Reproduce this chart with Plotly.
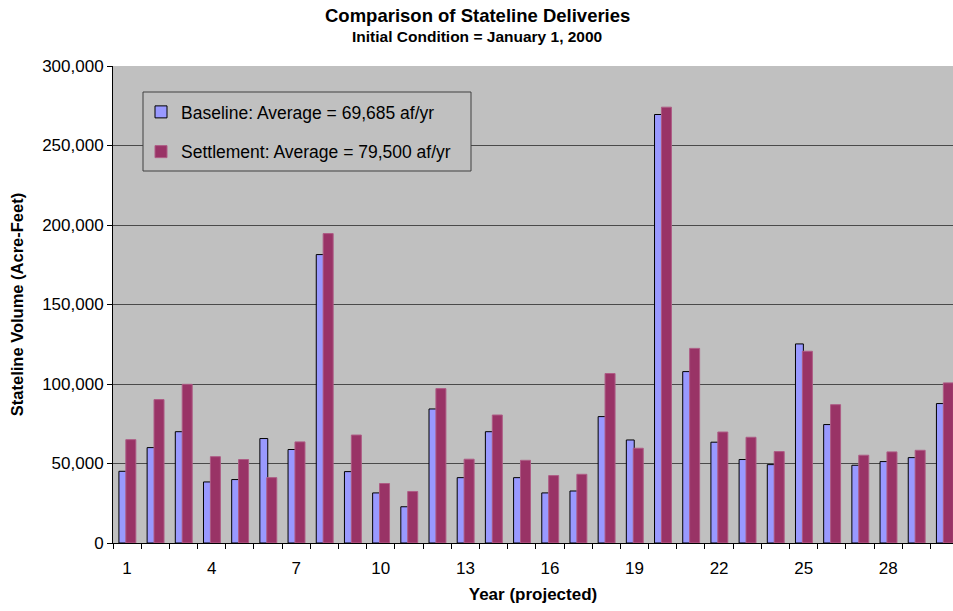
import plotly.graph_objects as go

years = [str(i) for i in range(1, 31)]
tick_labels = ["1", "", "", "4", "", "", "7", "", "", "10", "", "", "13", "", "", "16", "", "",
               "19", "", "", "22", "", "", "25", "", "", "28", "", ""]
baseline = [45100, 60000, 70000, 38400, 39900, 65700, 58800, 181400, 44900, 31500,
            22800, 84300, 41100, 70000, 41100, 31500, 32700, 79500, 64800, 269500,
            107800, 63400, 52500, 49300, 125200, 74500, 48900, 51200, 53700, 87700]
settlement = [65000, 90200, 99800, 54300, 52500, 41100, 63600, 194600, 67900, 37400,
              32400, 97100, 52700, 80500, 52000, 42400, 43200, 106600, 59600, 274100,
              122400, 69800, 66500, 57500, 120600, 87000, 55200, 57300, 58300, 100700]
baseline_name = "Baseline: Average = 69,685 af/yr"
settlement_name = "Settlement: Average = 79,500 af/yr"

FONT = "Liberation Sans, Arial, sans-serif"

fig = go.Figure()
fig.add_trace(go.Bar(
    x=years, y=baseline, name=baseline_name, legendgroup="a",
    offset=-0.29, width=0.28,
    marker=dict(color="#9999FF", line=dict(color="#000000", width=1)),
))
fig.add_trace(go.Bar(
    x=years, y=settlement, name=settlement_name, legendgroup="b",
    offset=-0.045, width=0.355,
    marker=dict(color="#993366", line=dict(color="#AE5C85", width=1)),
))

W, H = 953, 611
# target plot box in window pixels
PL, PR, PT, PB = 113, 953, 66, 543
L, T, R, B = PL, PT, W - PR, H - PB
pw = PR - PL
ph = PB - PT
cat_px = 28.19

def px_x(x):
    return (x - PL) / pw

def px_y(y):
    return (PB - y) / ph

fig.update_layout(
    width=W, height=H,
    margin=dict(l=L, r=R, t=T, b=B),
    paper_bgcolor="white",
    plot_bgcolor="#C0C0C0",
    font=dict(family=FONT, color="black", size=17),
    barmode="group",
    showlegend=True,
    legend=dict(
        x=px_x(141), y=px_y(94), xanchor="left", yanchor="top",
        bgcolor="rgba(0,0,0,0)", borderwidth=0,
        font=dict(family=FONT, size=17.5, color="black"),
        tracegroupgap=14,
    ),
    xaxis=dict(
        type="category",
        range=[-0.5, -0.5 + pw / cat_px],
        tickmode="array", tickvals=years, ticktext=tick_labels,
        tickson="boundaries",
        ticks="outside", ticklen=5, tickcolor="black", tickwidth=1,
        ticklabelstandoff=10,
        showline=True, linecolor="black", linewidth=1,
        showgrid=False, zeroline=False,
        tickfont=dict(size=17),
        title=dict(text="<b>Year (projected)</b>", font=dict(size=17), standoff=10),
    ),
    yaxis=dict(
        range=[0, 300000], dtick=50000, tickformat=",",
        ticks="outside", ticklen=5, tickcolor="black", tickwidth=1,
        showline=True, linecolor="black", linewidth=1,
        showgrid=True, gridcolor="#4A4A4A", gridwidth=1,
        zeroline=False,
        tickfont=dict(size=17),
        title=dict(text="<b>Stateline Volume (Acre-Feet)</b>", font=dict(size=16.5), standoff=14),
    ),
    shapes=[dict(
        type="rect", xref="paper", yref="paper", layer="above",
        x0=px_x(143), x1=px_x(471), y0=px_y(171), y1=px_y(92),
        line=dict(color="#404040", width=1), fillcolor="#C0C0C0",
    )],
    annotations=[
        dict(text="<b>Comparison of Stateline Deliveries</b>", xref="paper", yref="paper",
             x=px_x(477), y=px_y(16), xanchor="center", yanchor="middle",
             showarrow=False, font=dict(size=18.5, family=FONT)),
        dict(text="<b>Initial Condition = January 1, 2000</b>", xref="paper", yref="paper",
             x=px_x(477), y=px_y(36), xanchor="center", yanchor="middle",
             showarrow=False, font=dict(size=15.5, family=FONT)),
    ],
)

fig.write_html(
    "out.html",
    config={"displayModeBar": False},
    post_script="document.body.style.margin='0';document.body.style.overflow='hidden';",
)
